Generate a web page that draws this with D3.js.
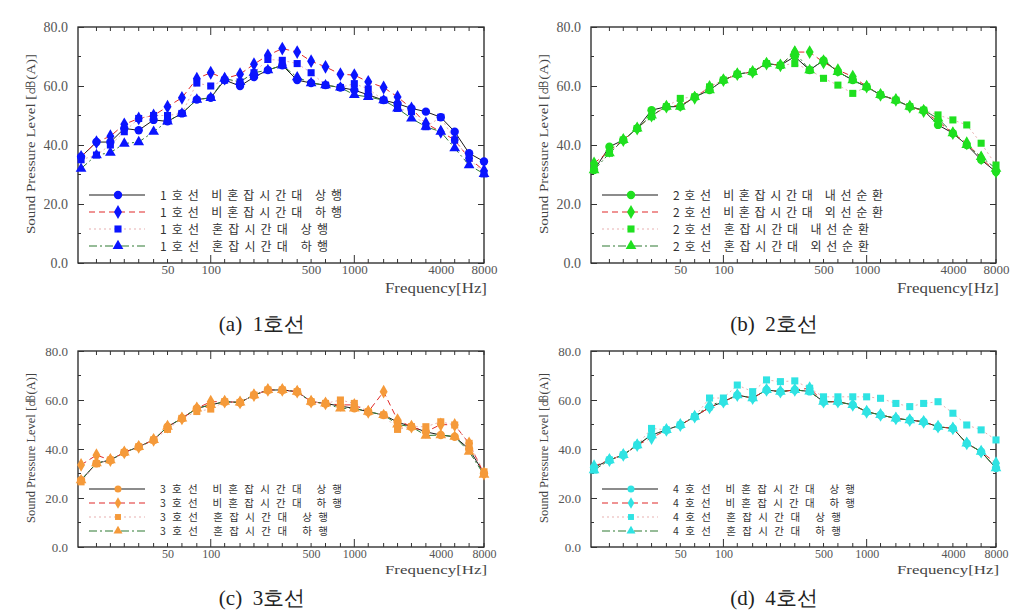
<!DOCTYPE html>
<html><head><meta charset="utf-8">
<script src="https://d3js.org/d3.v7.min.js"></script>
<style>
html,body{margin:0;padding:0;background:#fff;}
svg{display:block;}
</style></head>
<body>
<svg id="chart" width="1015" height="612"></svg>
<script>
// ---------- data ----------
const freqs = [12.5,16,20,25,31.5,40,50,63,80,100,125,160,200,250,315,400,500,630,800,1000,1250,1600,2000,2500,3150,4000,5000,6300,8000];
const yTickValues = [0,20,40,60,80];
const yMinorValues = [10,30,50,70];
const xTickLabels = [50,100,500,1000,4000,8000];
const xMajorTicks = [100,1000];
const captions = ["(a)  1호선","(b)  2호선","(c)  3호선","(d)  4호선"];
const yTitle = "Sound Pressure Level [㏈(A)]";
const xTitle = "Frequency[Hz]";

const namesA = ["1호선 비혼잡시간대 상행","1호선 비혼잡시간대 하행","1호선 혼잡시간대 상행","1호선 혼잡시간대 하행"];
const namesB = ["2호선 비혼잡시간대 내선순환","2호선 비혼잡시간대 외선순환","2호선 혼잡시간대 내선순환","2호선 혼잡시간대 외선순환"];
const namesC = ["3호선 비혼잡시간대 상행","3호선 비혼잡시간대 하행","3호선 혼잡시간대 상행","3호선 혼잡시간대 하행"];
const namesD = ["4호선 비혼잡시간대 상행","4호선 비혼잡시간대 하행","4호선 혼잡시간대 상행","4호선 혼잡시간대 하행"];

// Line 1
const a1 = [36,41,41,45.6,45,48.5,48,50.7,55.4,56,62,60,63,65.4,67,62,61,60.3,59.5,58.6,57,55.2,54,52.4,51.3,49.4,44.5,37.2,34.4];
const a2 = [36,41,43,47,49,50,53,56,62.5,64.5,62.5,64,67.4,70.4,72.7,71.5,68.4,66.5,64,63.7,61.4,59.5,56.3,52.4,47.3,44.5,41.7,35.5,31.3];
const a3 = [35,36.6,40,44.5,49,50,50,50.7,61,60,62,61.4,64.5,69,68.7,67.6,64.5,60.3,59.5,60.8,59,55.2,52.4,51.3,46.2,49.4,41.7,35.5,30.2];
const a4 = [32,36.6,37.4,40.5,41,44.5,48,50.7,55.4,56,62.5,61.4,64.5,65.4,67,63,61,60.3,59.5,57,56.3,55.2,52.4,49,46.2,44.5,38.9,33.2,30.2];
// Line 2
const b1 = [31.5,39.4,41.7,45.6,51.8,53,53,56.3,58.6,62,64,64.8,67.6,67,70,65.4,68.7,64.8,62,59.7,57,55.2,53,51.8,46.8,44,40,35,30.9];
const b2 = [33.8,38,41.7,45.6,50,53,53.5,56,59.7,62,64,64.8,67.6,67,71.5,71.5,68,65.4,63.2,59.8,57,55.3,53,51.5,48,44,40.6,35.5,31];
const b3 = [33,37.2,41.7,45.6,49.6,53,55.8,56.3,59.7,62,64,64.8,67.6,67,67.6,65.4,62.6,60.3,57.5,59.7,57,55.2,53,51.8,50.2,48.5,46.8,40.6,33.2];
const b4 = [31.5,37.2,41.7,45.6,50,53,53,56.3,58.6,62,64,64.8,67.6,67,71.5,65.4,68.7,64.8,62,59.7,57,55.2,53,51.8,49,44,40,36,32];
// Line 3
const c1 = [27.3,34.2,35.5,38.6,40.9,43.7,49.1,52.5,56.6,58,59.3,59,62,64.1,64.1,63.4,59.3,58.6,57.5,56.6,55.2,53.9,51,49.1,47,45.7,45,40,30];
const c2 = [33.5,37.5,35.5,38.6,40.9,43.7,49.1,52.5,56.6,59.3,59.3,59,62,64.1,64.1,63.4,59.3,58.6,58,58,55.2,63.4,51.8,49.1,47,50,49.8,42.3,30];
const c3 = [26.6,34,35.5,38.6,40.9,43.7,48,52.5,55.3,56.3,59.3,59,62,64.1,64.1,63.4,59.3,58.6,60,58.6,55.2,53.9,48,49.1,49.1,51.1,49.8,42.3,30.7];
const c4 = [27.3,34.2,35.5,38.6,40.9,43.7,49.1,52.5,56.6,58,59.3,59,62,64.1,64.1,63.4,59.3,58.6,56.6,56.6,55.2,53.9,50,49.1,45.5,45.7,45,38.9,29.5];
// Line 4
const d1 = [32.5,35.5,37.6,41.6,45.7,47.8,49.8,53.2,57,59.3,62,60.8,64.1,63.4,64.1,63.5,59.3,59.3,58,55.2,53.9,52.5,51.8,51.1,49.1,48.4,42.3,38.9,32.2];
const d2 = [33,35.5,37.6,41.6,44.5,47.8,49.8,53.2,57,59.3,62,60.8,64.1,63.4,64.1,64.8,59.3,59.3,58,55.2,53.9,52.5,51.8,51.1,49.1,48.4,42.3,38.9,34.2];
const d3v = [31.4,35.5,37.6,41.6,48.4,47.8,49.8,53.2,60.8,60.8,66.1,63.4,68.2,67.5,67.8,64.8,61.3,61.3,61.3,61.3,60.7,58.6,57.3,58.6,59.3,54.6,49.8,47.8,43.7];
const d4 = [31.4,35.5,37.6,41.6,45.7,47.8,49.8,53.2,58,59.3,62,60.8,64.1,63.4,64.1,63.5,59.3,59.3,58,55.2,53.9,52.5,51.8,51.1,49.1,48.4,42.3,38.9,32.2];

// ---------- layout / style ----------
const panels = [
  {series:[a1,a2,a3,a4], names:namesA, color:"#0a14ff", left:78, right:484, top:27, bottom:263, ylabX:30, legY:[195,212,229,246], legX:89, legFont:12, tickFont:14, xTickFont:13, titleDy:30, capY:331, capX:262},
  {series:[b1,b2,b3,b4], names:namesB, color:"#1fe01f", left:591, right:996, top:27, bottom:263, ylabX:543, legY:[195,212,229,246], legX:602, legFont:12, tickFont:14, xTickFont:13, titleDy:30, capY:331, capX:774},
  {series:[c1,c2,c3,c4], names:namesC, color:"#f59a3a", left:78, right:484, top:351, bottom:547, ylabX:30, legY:[489,503,517,531], legX:89, legFont:10.5, tickFont:13, xTickFont:12, titleDy:27, capY:605, capX:262},
  {series:[d1,d2,d3v,d4], names:namesD, color:"#2fe3e3", left:591, right:996, top:351, bottom:547, ylabX:543, legY:[489,503,517,531], legX:602, legFont:10.5, tickFont:13, xTickFont:12, titleDy:27, capY:605, capX:774}
];
const lineStyles = [
  {stroke:"#1a1a1a", dash:null, w:1},
  {stroke:"#e02828", dash:"6,4", w:1},
  {stroke:"#e8b0b0", dash:"2,3", w:1},
  {stroke:"#2f7a32", dash:"8,3,2,3", w:1}
];
const shapes = [d3.symbolCircle, d3.symbolDiamond, d3.symbolSquare, d3.symbolTriangle];
const shapeSizes = [55, 55, 50, 50];
const serif = "'Liberation Serif','DejaVu Serif',serif";
const kor = "'Noto Sans CJK KR','Noto Sans',sans-serif";

const svg = d3.select("#chart");

panels.forEach((p, pi) => {
  const g = svg.append("g");
  const x = d3.scaleLog().domain([11.9, 8000]).range([p.left, p.right]);
  const y = d3.scaleLinear().domain([0, 80]).range([p.bottom, p.top]);

  // frame
  g.append("rect").attr("x", p.left).attr("y", p.top)
    .attr("width", p.right - p.left).attr("height", p.bottom - p.top)
    .attr("fill", "none").attr("stroke", "#222").attr("stroke-width", 1.3);

  // y ticks (inward, both sides)
  const yAxisL = d3.axisLeft(y).tickValues(yTickValues).tickFormat(d3.format(".1f")).tickSizeInner(-6).tickSizeOuter(0).tickPadding(10);
  const gyl = g.append("g").attr("transform", `translate(${p.left},0)`).call(yAxisL);
  gyl.select(".domain").remove();
  gyl.selectAll("line").attr("stroke", "#333");
  gyl.selectAll("text").attr("font-family", serif).attr("font-size", p.tickFont).attr("fill", "#555");
  const yAxisR = d3.axisRight(y).tickValues(yTickValues).tickFormat("").tickSizeInner(-6).tickSizeOuter(0);
  const gyr = g.append("g").attr("transform", `translate(${p.right},0)`).call(yAxisR);
  gyr.select(".domain").remove();
  gyr.selectAll("line").attr("stroke", "#333");
  [[p.left, 3], [p.right, -3]].forEach(([xx, len]) => {
    g.selectAll(null).data(yMinorValues).enter().append("line")
      .attr("x1", xx).attr("x2", xx + len).attr("y1", d => y(d)).attr("y2", d => y(d))
      .attr("stroke", "#333");
  });

  // x ticks (inward, both sides) at band frequencies
  const tickLen = d => xMajorTicks.includes(d) ? 8 : 4;
  [[p.bottom, -1], [p.top, 1]].forEach(([yy, dir]) => {
    g.selectAll(null).data(freqs.slice(1)).enter().append("line")
      .attr("x1", d => x(d)).attr("x2", d => x(d))
      .attr("y1", yy).attr("y2", d => yy + dir * tickLen(d))
      .attr("stroke", "#333");
  });
  const xAxis = d3.axisBottom(x).tickValues(xTickLabels).tickFormat(d3.format("d")).tickSize(0).tickPadding(2);
  const gx = g.append("g").attr("transform", `translate(0,${p.bottom})`).call(xAxis);
  gx.select(".domain").remove();
  gx.selectAll("text").attr("font-family", serif).attr("font-size", p.xTickFont).attr("fill", "#555");

  // axis titles
  g.append("text").attr("x", p.right + 3).attr("y", p.bottom + p.titleDy)
    .attr("text-anchor", "end").attr("font-family", serif).attr("font-size", p.xTickFont + 1)
    .attr("fill", "#444").attr("textLength", 102).attr("lengthAdjust", "spacingAndGlyphs").text(xTitle);
  const cy = (p.top + p.bottom) / 2;
  const tl = pi < 2 ? 180 : 150;
  g.append("text").attr("transform", `translate(${p.ylabX + 5},${cy - 1}) rotate(-90)`)
    .attr("text-anchor", "middle").attr("font-family", serif).attr("font-size", 13)
    .attr("fill", "#444").attr("textLength", tl).attr("lengthAdjust", "spacingAndGlyphs").text(yTitle);

  // series lines
  const line = d3.line().x((d, i) => x(freqs[i])).y(d => y(d));
  p.series.forEach((s, si) => {
    const st = lineStyles[si];
    g.append("path").datum(s).attr("d", line).attr("fill", "none")
      .attr("stroke", st.stroke).attr("stroke-width", st.w)
      .attr("stroke-dasharray", st.dash);
  });
  // markers
  p.series.forEach((s, si) => {
    const sym = d3.symbol().type(shapes[si]).size(shapeSizes[si]);
    g.selectAll(null).data(s).enter().append("path")
      .attr("d", sym)
      .attr("transform", (d, i) => `translate(${x(freqs[i])},${y(d)})`)
      .attr("fill", p.color);
  });

  // legend
  p.names.forEach((nm, si) => {
    const ly = p.legY[si];
    const st = lineStyles[si];
    g.append("line").attr("x1", p.legX).attr("x2", p.legX + 56).attr("y1", ly).attr("y2", ly)
      .attr("stroke", st.stroke).attr("stroke-width", 1.2).attr("stroke-dasharray", st.dash);
    g.append("path").attr("d", d3.symbol().type(shapes[si]).size(shapeSizes[si] * (pi < 2 ? 1 : 0.7))())
      .attr("transform", `translate(${p.legX + 29},${ly})`).attr("fill", p.color);
    const chars = Array.from(nm).length;
    g.append("text").attr("x", p.legX + 71).attr("y", ly + p.legFont * 0.38)
      .attr("font-family", kor).attr("font-size", p.legFont).attr("fill", "#333")
      .attr("textLength", chars * 14).attr("lengthAdjust", "spacing").text(nm);
  });

  // caption
  svg.append("text").attr("x", p.capX).attr("y", p.capY).attr("text-anchor", "middle")
    .attr("font-family", serif).attr("font-size", 21).attr("fill", "#222")
    .style("white-space", "pre").text(captions[pi]);
});
</script>
</body></html>
